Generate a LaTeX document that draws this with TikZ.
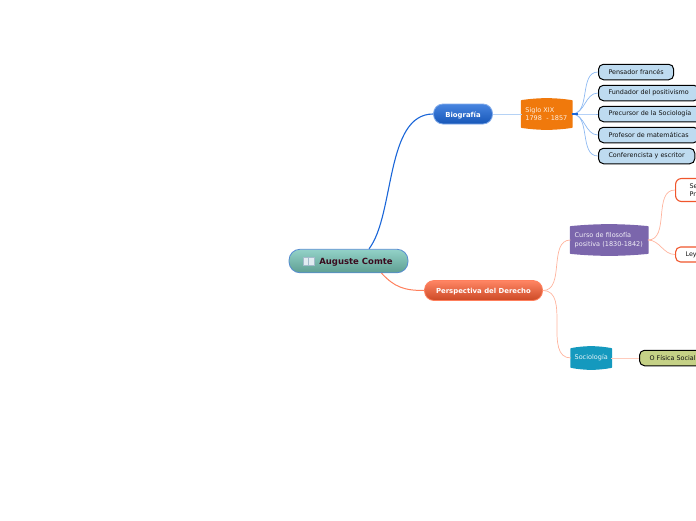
\documentclass[tikz,border=0pt]{standalone}
\usepackage{fontspec}
\setmainfont{DejaVu Sans}
\usepackage{xcolor}
\definecolor{ink}{HTML}{111111}
\definecolor{maroon}{HTML}{3A0A1E}
\definecolor{skyleaf}{HTML}{BEDBF0}
\definecolor{bluelink}{HTML}{8DB9F2}
\definecolor{bluepale}{HTML}{B5D2F5}
\definecolor{bluemain}{HTML}{1A66D8}
\definecolor{coral}{HTML}{FF7F5C}
\definecolor{salmon}{HTML}{FFB49E}
\definecolor{salmonpale}{HTML}{FFCBBC}
\definecolor{redline}{HTML}{F0562C}
\definecolor{amber}{HTML}{F0790C}
\definecolor{grape}{HTML}{7B66AC}
\definecolor{lagoon}{HTML}{1499BE}
\definecolor{olive}{HTML}{C5D186}
\definecolor{tealtop}{HTML}{93D2C8}
\definecolor{tealmid}{HTML}{82C5B8}
\definecolor{tealend}{HTML}{5F9F92}
\definecolor{page}{HTML}{E2ECF2}
\definecolor{pageline}{HTML}{A3BBCB}
\usetikzlibrary{backgrounds, calc}
\tikzset{
  pill/.style={rounded corners=9.5pt, anchor=center, align=center, inner sep=0pt, line width=0.8pt},
  mainbox/.style={pill, font=\bfseries\fontsize{6.9}{8}\selectfont, text=white, minimum height=20pt,
    text height=6pt, text depth=0pt},
  barrel/.style={anchor=west, align=left, inner sep=0pt, font=\fontsize{6.5}{8.6}\selectfont, text=white!88!amber},
  leaf/.style={draw=black, fill=skyleaf, rounded corners=5pt, anchor=west, align=left, line width=1pt,
    inner xsep=10pt, inner ysep=0pt, minimum height=15.5pt, font=\fontsize{6.4}{7.5}\selectfont, text=ink},
  redleaf/.style={draw=redline, fill=white, rounded corners=5pt, anchor=west, align=left, line width=1.1pt,
    inner sep=0pt, font=\fontsize{6.4}{8.6}\selectfont, text=ink},
  link/.style={out=0, in=180, line width=0.7pt},
  bookpage/.style={fill=page, draw=pageline, line width=0.4pt},
}
\newcommand{\barrelshape}[2]{%
  \begin{scope}[on background layer]
    \filldraw[#2, line width=1.4pt, line join=round] (#1.north west)
      .. controls ($(#1.north west)!.35!(#1.north east)+(0,-2.6)$) and ($(#1.north west)!.65!(#1.north east)+(0,-2.6)$) .. (#1.north east)
      -- (#1.south east)
      .. controls ($(#1.south west)!.65!(#1.south east)+(0,2.6)$) and ($(#1.south west)!.35!(#1.south east)+(0,2.6)$) .. (#1.south west)
      -- cycle;
  \end{scope}}
\begin{document}
\begin{tikzpicture}[x=1pt, y=-1pt]
  \useasboundingbox (0,0) rectangle (696,520);
  \clip (0,0) rectangle (696,520);

  \node[pill, draw=cyan!50!blue!70, top color=tealtop, middle color=tealmid, bottom color=tealend,
    minimum width=119pt, minimum height=23.5pt, rounded corners=11pt, font=\bfseries\fontsize{8.5}{10}\selectfont,
    text=maroon, text height=6.6pt, text depth=0pt] (root) at (348.5,261) {\hspace*{15pt}Auguste Comte};
  \filldraw[bookpage] ([shift={(-45.5,4.5)}]root.center) rectangle ([shift={(-40,-4)}]root.center);
  \filldraw[bookpage] ([shift={(-40,4.5)}]root.center) rectangle ([shift={(-34.5,-4)}]root.center);

  \node[mainbox, draw=bluemain!55, top color=bluemain!80, bottom color=bluemain!85!black,
    minimum width=59pt] (bio) at (463,114) {Biografía};
  \node[mainbox, draw=coral, top color=coral!95, bottom color=redline!85!black,
    minimum width=118pt] (per) at (483.5,290.5) {Perspectiva del Derecho};

  % first branch
  \node[barrel, minimum width=50pt, minimum height=26pt, text width=45.5pt, inner xsep=2.25pt] (siglo) at (521.5,114)
    {\hspace*{1.5pt}Siglo XIX\\\hspace*{1.5pt}1798~ - 1857};
  \barrelshape{siglo}{amber}
  \node[leaf] (pen) at (598,72) {Pensador francés};
  \node[leaf] (fun) at (598,93) {Fundador del positivismo};
  \node[leaf] (pre) at (598,114) {Precursor de la Sociología};
  \node[leaf] (pro) at (598,135) {Profesor de matemáticas};
  \node[leaf] (con) at (598,156) {Conferencista y escritor};

  % second branch
  \node[barrel, minimum width=77pt, minimum height=26pt, text width=71pt, inner xsep=3pt, text=white!90!grape] (cur) at (570.5,240)
    {\hspace*{1pt}Curso de filosofía\\\hspace*{1pt}positiva (1830-1842)};
  \barrelshape{cur}{grape}
  \node[barrel, minimum width=40pt, minimum height=18pt, align=center, text=white!90!lagoon] (soc) at (571,358) {Sociología};
  \barrelshape{soc}{lagoon}
  \node[redleaf, minimum width=60pt, minimum height=23pt, text width=46pt, inner xsep=14pt, rounded corners=6pt] (se) at (675,190) {Se\\Pr};
  \node[redleaf, minimum width=60pt, minimum height=15pt, text width=50pt, inner xsep=10pt] (ley) at (675,254.5) {Ley};
  \node[leaf, fill=olive] (fis) at (639,358) {O Física Social};

  % connectors
  \draw[bluemain, line width=1.1pt] ([xshift=20.5pt]root.north) .. controls +(26,-34) and ([xshift=-48pt]bio.west) .. (bio.west);
  \draw[coral, line width=1pt] ([xshift=33pt]root.south) .. controls +(13,14) and ([xshift=-20pt]per.west) .. (per.west);
  \draw[bluepale, line width=1pt] (bio.east) -- (siglo.west);
  \foreach \leafname in {pen, fun, pre, pro, con}
    \draw[bluelink, link] (siglo.east) to (\leafname.west);
  \draw[bluemain, line width=1.1pt] (siglo.east) -- ++(6,0);
  \draw[salmon, link] (per.east) to (cur.west);
  \draw[salmon, link] (per.east) to (soc.west);
  \draw[salmon, link] (cur.east) to (se.west);
  \draw[salmon, link] (cur.east) to (ley.west);
  \draw[salmonpale, line width=1pt] (soc.east) -- (fis.west);
\end{tikzpicture}
\end{document}
